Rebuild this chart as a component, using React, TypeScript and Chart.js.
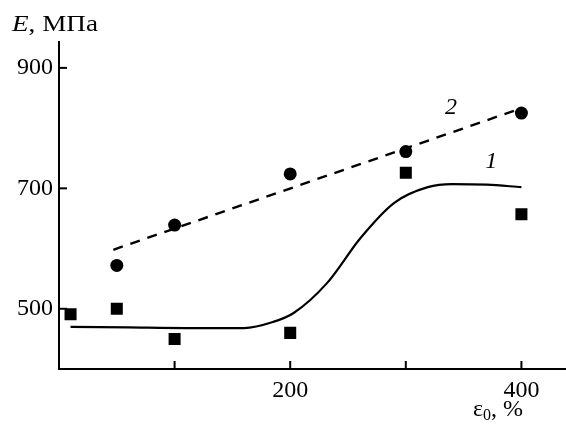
import React, { useEffect, useRef } from "react";
import { Chart, registerables } from "chart.js";

Chart.register(...registerables);

// Strain ε0, % and modulus E, MPa
const squareX = [10, 50, 100, 200, 300, 400];
const squareY = [491, 500, 450, 460, 726, 657];

const circleX = [50, 100, 200, 300, 400];
const circleY = [572, 639, 724, 761, 825];

// Curve 1 (smooth fit through squares)
const curve1X = [10, 60, 110, 160, 185, 203, 232, 261, 290, 319, 340, 370, 400];
const curve1Y = [470, 469, 468, 468, 478, 493, 543, 618, 676, 702, 707, 706, 702];

// Curve 2 (dashed linear fit through circles)
const curve2X = [47, 400];
const curve2Y = [598, 833];

const xTicks = [100, 200, 300, 400];
const xTickLabels = ["", "200", "", "400"];
const yTicks = [500, 700, 900];

const curveLabels = [
  { text: "2", x: 339, y: 834 },
  { text: "1", x: 374, y: 744 },
];

const FONT = "'Liberation Serif', 'Times New Roman', serif";

const innerTicksPlugin = {
  id: "innerTicks",
  afterDraw(chart: any) {
    const { ctx, chartArea, scales } = chart;
    ctx.save();
    ctx.strokeStyle = "#000";
    ctx.lineWidth = 2;
    const len = 8;
    xTicks.forEach((v) => {
      const px = scales.x.getPixelForValue(v);
      ctx.beginPath();
      ctx.moveTo(px, chartArea.bottom);
      ctx.lineTo(px, chartArea.bottom - len);
      ctx.stroke();
    });
    yTicks.forEach((v) => {
      const py = scales.y.getPixelForValue(v);
      ctx.beginPath();
      ctx.moveTo(chartArea.left, py);
      ctx.lineTo(chartArea.left + len, py);
      ctx.stroke();
    });
    ctx.fillStyle = "#000";
    ctx.font = "italic 24px " + FONT;
    ctx.textAlign = "center";
    ctx.textBaseline = "middle";
    curveLabels.forEach((l) => {
      ctx.fillText(l.text, scales.x.getPixelForValue(l.x), scales.y.getPixelForValue(l.y));
    });
    ctx.restore();
  },
};

export default function App() {
  const ref = useRef<HTMLCanvasElement>(null);

  useEffect(() => {
    if (!ref.current) return;
    const pts = (xs: number[], ys: number[]) => xs.map((x, i) => ({ x, y: ys[i] }));
    const chart = new Chart(ref.current, {
      type: "scatter",
      data: {
        datasets: [
          {
            type: "line",
            data: pts(curve1X, curve1Y),
            borderColor: "#000",
            borderWidth: 2.2,
            pointRadius: 0,
            cubicInterpolationMode: "monotone",
            fill: false,
          } as any,
          {
            type: "line",
            data: pts(curve2X, curve2Y),
            borderColor: "#000",
            borderWidth: 2.4,
            borderDash: [10, 8],
            pointRadius: 0,
            fill: false,
          } as any,
          {
            data: pts(squareX, squareY),
            pointStyle: "rect",
            pointRadius: 8.5,
            backgroundColor: "#000",
            borderWidth: 0,
            showLine: false,
          } as any,
          {
            data: pts(circleX, circleY),
            pointStyle: "circle",
            pointRadius: 6.5,
            backgroundColor: "#000",
            borderWidth: 0,
            showLine: false,
          } as any,
        ],
      },
      options: {
        animation: false,
        responsive: false,
        devicePixelRatio: 1,
        layout: { padding: { top: 42, left: 0, right: 0, bottom: 0 } },
        plugins: { legend: { display: false }, tooltip: { enabled: false } },
        events: [],
        scales: {
          x: {
            type: "linear",
            min: 0,
            max: 439,
            grid: { display: false, drawTicks: false },
            border: { display: true, color: "#000", width: 2 },
            ticks: {
              color: "#000",
              font: { family: FONT, size: 24 },
              padding: 7,
              maxRotation: 0,
              autoSkip: false,
              callback: (v: any) => {
                const i = xTicks.indexOf(Number(v));
                return i >= 0 ? xTickLabels[i] : "";
              },
            },
            afterBuildTicks: (s: any) => {
              s.ticks = xTicks.map((v) => ({ value: v }));
            },
            afterFit: (s: any) => {
              s.height = 61;
              s.paddingRight = 0;
              s.paddingLeft = 0;
            },
          },
          y: {
            type: "linear",
            min: 400,
            max: 943,
            grid: { display: false, drawTicks: false },
            border: { display: true, color: "#000", width: 2 },
            ticks: {
              color: "#000",
              font: { family: FONT, size: 24 },
              padding: 6,
            },
            afterBuildTicks: (s: any) => {
              s.ticks = yTicks.map((v) => ({ value: v }));
            },
            afterFit: (s: any) => {
              s.width = 59;
              s.paddingTop = 0;
              s.paddingBottom = 0;
            },
          },
        },
      },
      plugins: [innerTicksPlugin],
    });
    return () => chart.destroy();
  }, []);

  return (
    <div
      style={{
        position: "fixed",
        left: 0,
        top: 0,
        width: 566,
        height: 430,
        background: "#fff",
        overflow: "hidden",
      }}
    >
      <canvas ref={ref} width={575} height={430} style={{ position: "absolute", left: 0, top: 0 }} />
      <div
        style={{
          position: "absolute",
          left: 12,
          top: 12,
          fontFamily: FONT,
          fontSize: 23,
          lineHeight: "23px",
          color: "#000",
          whiteSpace: "nowrap",
          transform: "scaleX(1.18)",
          transformOrigin: "left top",
        }}
      >
        <i>E</i>, МПа
      </div>
      <div
        style={{
          position: "absolute",
          left: 473,
          top: 396,
          fontFamily: FONT,
          fontSize: 24,
          lineHeight: "24px",
          color: "#000",
          whiteSpace: "nowrap",
        }}
      >
        ε<span style={{ fontSize: 16, position: "relative", top: 4 }}>0</span>, %
      </div>
    </div>
  );
}
